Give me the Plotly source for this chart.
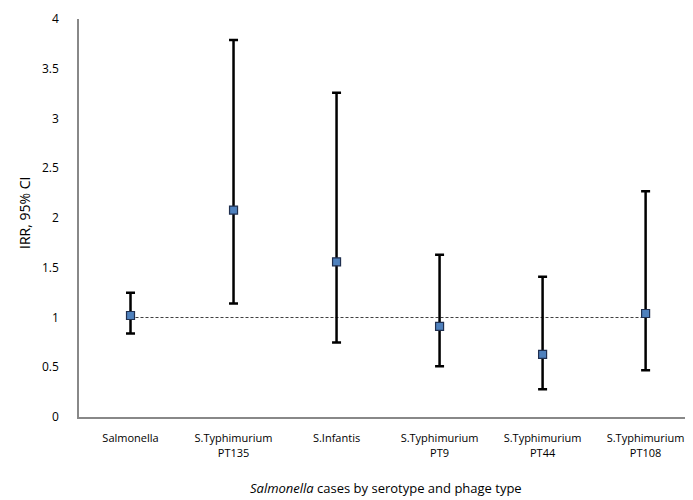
import plotly.graph_objects as go

categories = ["Salmonella", "S.Typhimurium<br>PT135", "S.Infantis", "S.Typhimurium<br>PT9",
              "S.Typhimurium<br>PT44", "S.Typhimurium<br>PT108"]
irr = [1.02, 2.08, 1.56, 0.91, 0.63, 1.04]
ci_upper = [1.25, 3.79, 3.26, 1.63, 1.41, 2.27]
ci_lower = [0.84, 1.14, 0.75, 0.51, 0.28, 0.47]
reference = [1, 1, 1, 1, 1, 1]
y_ticks = [0, 0.5, 1, 1.5, 2, 2.5, 3, 3.5, 4]

x = list(range(len(categories)))
err_plus = [u - v for u, v in zip(ci_upper, irr)]
err_minus = [v - l for v, l in zip(irr, ci_lower)]

fig = go.Figure()
fig.add_trace(go.Scatter(
    x=x, y=reference, mode="lines",
    line=dict(color="#404040", width=1, dash="3px,2px"),
    hoverinfo="skip", showlegend=False))
fig.add_trace(go.Scatter(
    x=x, y=irr, mode="markers",
    marker=dict(symbol="square", size=8, color="#4F81BD",
                line=dict(color="#1F2F4F", width=1.2)),
    error_y=dict(type="data", symmetric=False, array=err_plus, arrayminus=err_minus,
                 color="black", thickness=2.5, width=4.5),
    showlegend=False))

font = "Open Sans, Liberation Sans, sans-serif"
fig.update_layout(
    width=685, height=492,
    margin=dict(l=71, r=0, t=11, b=83),
    paper_bgcolor="white", plot_bgcolor="white",
    font=dict(family=font, size=11, color="black"),
    xaxis=dict(
        range=[-0.5, 5.46], tickmode="array", tickvals=x, ticktext=categories,
        showgrid=False, zeroline=False, showline=True, linecolor="#888888", linewidth=2,
        ticks="", ticklabelstandoff=10, automargin=False,
        tickfont=dict(size=11)),
    yaxis=dict(
        range=[0, 4], tickmode="array", tickvals=y_ticks,
        ticktext=[("%g" % v) for v in y_ticks],
        showgrid=False, zeroline=False, showline=True, linecolor="#888888", linewidth=1.5,
        ticks="", ticklabelstandoff=16, automargin=False,
        tickfont=dict(size=12)),
    annotations=[
        dict(text="<i>Salmonella</i> cases by serotype and phage type",
             xref="paper", yref="paper", x=(386 - 79) / 614, y=-(488 - 417) / 398,
             xanchor="center", yanchor="middle", showarrow=False, font=dict(size=13)),
        dict(text="IRR, 95% CI", textangle=-90,
             xref="paper", yref="paper", x=-(79 - 24) / 614, y=(417 - 213) / 398,
             xanchor="center", yanchor="middle", showarrow=False, font=dict(size=14)),
    ],
)
fig.write_html("out.html")
